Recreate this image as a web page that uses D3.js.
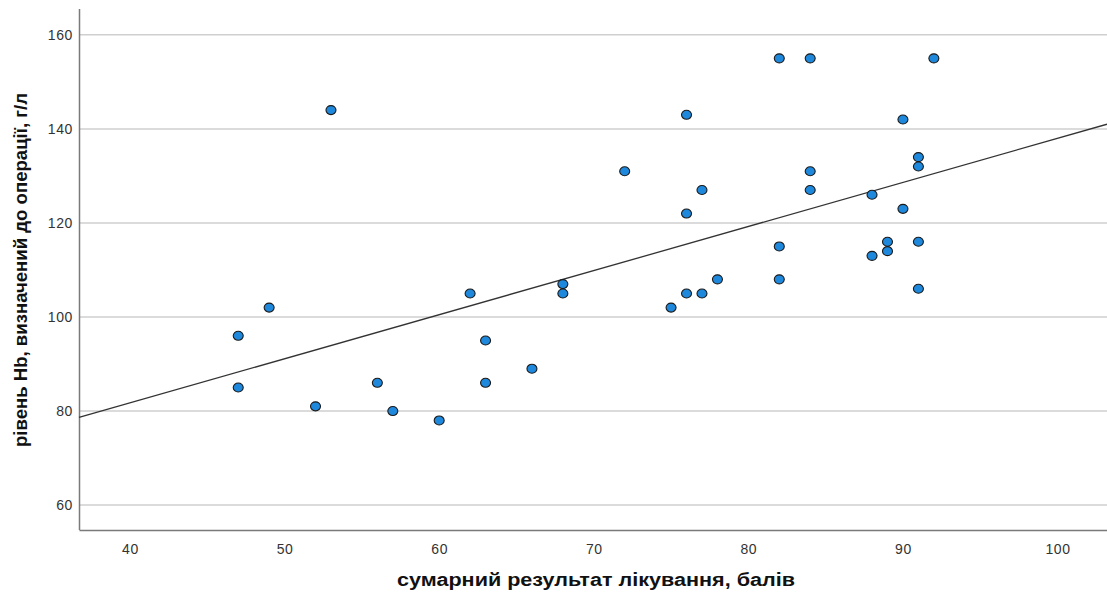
<!DOCTYPE html>
<html><head><meta charset="utf-8">
<script src="https://cdn.jsdelivr.net/npm/d3@7"></script>
<style>
html,body{margin:0;padding:0;background:#fff;}
svg{display:block;}
</style></head>
<body>
<svg id="chart" width="1107" height="592"></svg>
<script>
// Data
const scoreValues = [47,47,49,53,52,56,57,60,62,63,63,66,68,68,72,75,76,76,76,77,77,78,82,82,82,84,84,84,88,88,89,89,90,90,91,91,91,91,92];
const hbValues    = [96,85,102,144,81,86,80,78,105,95,86,89,107,105,131,102,143,122,105,127,105,108,155,115,108,155,131,127,126,113,116,114,142,123,134,132,116,106,155];
const xTicks = [40,50,60,70,80,90,100];
const yTicks = [60,80,100,120,140,160];
const xTitle = "сумарний результат лікування, балів";
const yTitle = "рівень Hb, визначений до операції, г/л";

(function(){
const svg = d3.select("#chart");
const pLeft = 79, pRight = 1107, pTop = 9, pBottom = 530;

const x = d3.scaleLinear().domain([36.7, 103.2]).range([pLeft, pRight]);
const y = d3.scaleLinear().domain([54.7, 165.5]).range([pBottom, pTop]);

// gridlines
svg.append("g").selectAll("line").data(yTicks).join("line")
  .attr("x1", pLeft).attr("x2", pRight)
  .attr("y1", d => y(d)).attr("y2", d => y(d))
  .attr("stroke", "#cfcfcf").attr("stroke-width", 1.5);

// axes
const xAxis = d3.axisBottom(x).tickValues(xTicks).tickSize(0).tickPadding(14);
const yAxis = d3.axisLeft(y).tickValues(yTicks).tickSize(0).tickPadding(6);

const gx = svg.append("g").attr("transform", `translate(0,${pBottom})`).call(xAxis);
const gy = svg.append("g").attr("transform", `translate(${pLeft},0)`).call(yAxis);
[gx, gy].forEach(g => {
  g.select(".domain").attr("stroke", "#7a7a7a").attr("stroke-width", 1.5);
  g.selectAll("text").attr("font-family", "Liberation Sans, Arial, sans-serif")
    .attr("font-size", 14).attr("fill", "#333").attr("letter-spacing", 0.6);
});
gy.select(".domain").attr("d", `M0.5,${pTop}V${pBottom}`);

// regression line (least squares fit)
const n = scoreValues.length;
const mx = d3.mean(scoreValues), my = d3.mean(hbValues);
let sxy = 0, sxx = 0;
for (let i = 0; i < n; i++) { sxy += (scoreValues[i]-mx)*(hbValues[i]-my); sxx += (scoreValues[i]-mx)**2; }
const slope = sxy / sxx, intercept = my - slope*mx;
const [d0, d1] = x.domain();
svg.append("line")
  .attr("x1", x(d0)).attr("y1", y(intercept + slope*d0))
  .attr("x2", x(d1)).attr("y2", y(intercept + slope*d1))
  .attr("stroke", "#333").attr("stroke-width", 1.3);

// points
svg.append("g").selectAll("ellipse").data(scoreValues.map((s,i)=>({s, h: hbValues[i]}))).join("ellipse")
  .attr("cx", d => x(d.s)).attr("cy", d => y(d.h))
  .attr("rx", 5).attr("ry", 4.5)
  .attr("fill", "#1e88dc").attr("stroke", "#1a1a1a").attr("stroke-width", 1.1);

// titles
svg.append("text").attr("x", 596).attr("y", 586).attr("text-anchor", "middle")
  .attr("font-family", "Liberation Sans, Arial, sans-serif").attr("font-weight", "bold")
  .attr("font-size", 18).attr("fill", "#111")
  .attr("textLength", 398).attr("lengthAdjust", "spacingAndGlyphs")
  .text(xTitle);

svg.append("text").attr("transform", "translate(27,270) rotate(-90)").attr("text-anchor", "middle")
  .attr("font-family", "Liberation Sans, Arial, sans-serif").attr("font-weight", "bold")
  .attr("font-size", 19).attr("fill", "#111")
  .attr("textLength", 354).attr("lengthAdjust", "spacingAndGlyphs")
  .text(yTitle);
})();
</script>
</body></html>
